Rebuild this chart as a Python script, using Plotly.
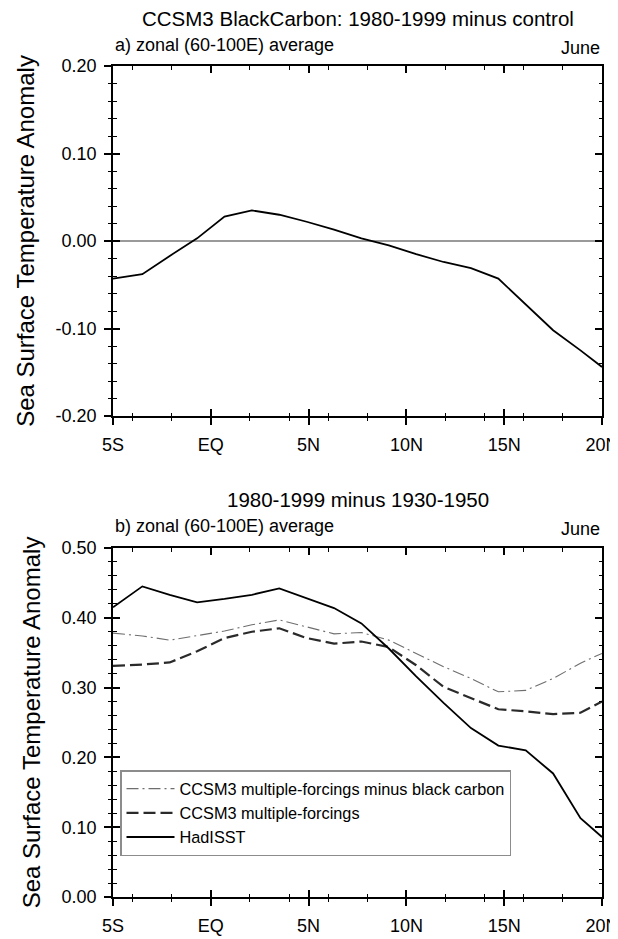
import plotly.graph_objects as go

# ---- data ----
lat = [-5.0, -3.5, -2.1, -0.7, 0.7, 2.1, 3.5, 4.9, 6.3, 7.7, 9.1, 10.5,
       11.9, 13.3, 14.7, 16.1, 17.5, 18.9, 20.0]

bc_minus_control = [-0.043, -0.038, -0.017, 0.003, 0.028, 0.035, 0.030, 0.022,
                    0.013, 0.003, -0.005, -0.015, -0.024, -0.031, -0.043,
                    -0.072, -0.102, -0.125, -0.144]

mf_minus_bc = [0.378, 0.374, 0.368, 0.374, 0.381, 0.390, 0.397, 0.387, 0.377,
               0.379, 0.368, 0.349, 0.330, 0.313, 0.294, 0.296, 0.313, 0.335,
               0.349]

mf = [0.331, 0.333, 0.336, 0.352, 0.371, 0.380, 0.385, 0.371, 0.363, 0.366,
      0.358, 0.332, 0.301, 0.285, 0.269, 0.266, 0.262, 0.264, 0.280]

hadisst = [0.415, 0.445, 0.433, 0.422, 0.427, 0.433, 0.442, 0.428, 0.414,
           0.392, 0.356, 0.316, 0.278, 0.242, 0.217, 0.210, 0.177, 0.113,
           0.086]

xtick_vals = [-5, 0, 5, 10, 15, 20]
xtick_text = ["5S", "EQ", "5N", "10N", "15N", "20N"]

ytick_vals_a = [-0.2, -0.1, 0.0, 0.1, 0.2]
ytick_text_a = ["-0.20", "-0.10", "0.00", "0.10", "0.20"]
ytick_vals_b = [0.0, 0.1, 0.2, 0.3, 0.4, 0.5]
ytick_text_b = ["0.00", "0.10", "0.20", "0.30", "0.40", "0.50"]

FONT = "Liberation Sans, Arial, Helvetica, sans-serif"
OFF = 8                      # page body margin
W, H = 618 - OFF, 939 - OFF  # figure size so it fits the window


def px_x(p):
    return (p - OFF) / W


def px_y(p):
    return 1 - (p - OFF) / H


fig = go.Figure()

fig.add_trace(go.Scatter(x=lat, y=bc_minus_control, mode="lines",
                         line=dict(color="black", width=1.8),
                         showlegend=False, xaxis="x", yaxis="y"))

fig.add_trace(go.Scatter(x=lat, y=mf_minus_bc, mode="lines",
                         name="CCSM3 multiple-forcings minus black carbon",
                         line=dict(color="#6e6e6e", width=1.1,
                                   dash="12px,4px,2px,4px"),
                         xaxis="x2", yaxis="y2"))
fig.add_trace(go.Scatter(x=lat, y=mf, mode="lines",
                         name="CCSM3 multiple-forcings",
                         line=dict(color="#2a2a2a", width=2.2, dash="12px,5px"),
                         xaxis="x2", yaxis="y2"))
fig.add_trace(go.Scatter(x=lat, y=hadisst, mode="lines",
                         name="HadISST",
                         line=dict(color="black", width=1.8),
                         xaxis="x2", yaxis="y2"))

# empty traces that carry the inward-tick overlay axes
for xa, ya in (("x3", "y3"), ("x4", "y4")):
    fig.add_trace(go.Scatter(x=[None], y=[None], mode="lines", showlegend=False,
                             hoverinfo="skip", xaxis=xa, yaxis=ya))

XDOM = [px_x(113), px_x(602)]
DOM_A = [px_y(416), px_y(66)]
DOM_B = [px_y(897), px_y(548)]


def xax(anchor, ticks, labels, overlay=None):
    d = dict(domain=XDOM, range=[-5, 20], anchor=anchor, automargin=False,
             tickmode="array", tickvals=xtick_vals, ticktext=xtick_text,
             ticks=ticks, ticklen=7, tickwidth=1.5, tickcolor="black",
             mirror="ticks" if overlay else True,
             showline=not overlay, linecolor="black", linewidth=1.6,
             showgrid=False, zeroline=False, showticklabels=labels,
             ticklabeloverflow="allow", ticklabelstandoff=5,
             tickfont=dict(family=FONT, size=18, color="black"),
             minor=dict(dtick=2, tick0=0, ticks=ticks, ticklen=3.5,
                        tickwidth=1, tickcolor="black", showgrid=False))
    if overlay:
        d["overlaying"] = overlay
    return d


def yax(anchor, rng, domain, tv, tt, ticks, labels, overlay=None, zero=False):
    d = dict(domain=domain, range=rng, anchor=anchor, automargin=False,
             tickmode="array", tickvals=tv, ticktext=tt,
             ticks=ticks, ticklen=7, tickwidth=1.5,
             tickcolor="black", mirror="ticks" if overlay else True,
             showline=not overlay, linecolor="black", linewidth=1.6,
             showgrid=False, zeroline=zero, zerolinecolor="#9a9a9a",
             zerolinewidth=2, showticklabels=labels,
             ticklabeloverflow="allow", ticklabelstandoff=4,
             tickfont=dict(family=FONT, size=18, color="black"),
             title=dict(text="Sea Surface Temperature Anomaly" if labels else "",
                        font=dict(family=FONT, size=24, color="black"),
                        standoff=14),
             minor=dict(dtick=0.02, tick0=0, ticks=ticks, ticklen=3.5,
                        tickwidth=1, tickcolor="black", showgrid=False))
    if overlay:
        d["overlaying"] = overlay
    return d


fig.update_layout(
    width=W, height=H,
    margin=dict(l=0, r=0, t=0, b=0, autoexpand=False),
    paper_bgcolor="white", plot_bgcolor="white",
    font=dict(family=FONT, color="black"),
    xaxis=xax("y", "outside", True),
    yaxis=yax("x", [-0.2, 0.2], DOM_A, ytick_vals_a, ytick_text_a,
              "outside", True, zero=True),
    xaxis2=xax("y2", "outside", True),
    yaxis2=yax("x2", [0.0, 0.5], DOM_B, ytick_vals_b, ytick_text_b,
               "outside", True),
    xaxis3=xax("y3", "inside", False, overlay="x"),
    yaxis3=yax("x3", [-0.2, 0.2], DOM_A, ytick_vals_a, ytick_text_a,
               "inside", False, overlay="y"),
    xaxis4=xax("y4", "inside", False, overlay="x2"),
    yaxis4=yax("x4", [0.0, 0.5], DOM_B, ytick_vals_b, ytick_text_b,
               "inside", False, overlay="y2"),
    legend=dict(x=px_x(120), y=px_y(770), xanchor="left", yanchor="top",
                bgcolor="white", bordercolor="#8c8c8c", borderwidth=1.5,
                font=dict(family=FONT, size=16.3, color="black"),
                tracegroupgap=0, itemwidth=48),
    showlegend=True,
)

xc = (XDOM[0] + XDOM[1]) / 2
ann = [
    dict(text="CCSM3 BlackCarbon: 1980-1999 minus control", x=xc, y=px_y(18),
         font=dict(size=20.5)),
    dict(text="a) zonal (60-100E) average", x=XDOM[0], y=px_y(45),
         xanchor="left", font=dict(size=18)),
    dict(text="June", x=XDOM[1], y=px_y(48), xanchor="right", font=dict(size=18)),
    dict(text="1980-1999 minus 1930-1950", x=xc, y=px_y(499), font=dict(size=20.5)),
    dict(text="b) zonal (60-100E) average", x=XDOM[0], y=px_y(526),
         xanchor="left", font=dict(size=18)),
    dict(text="June", x=XDOM[1], y=px_y(529), xanchor="right", font=dict(size=18)),
]
for a in ann:
    a.update(xref="paper", yref="paper", showarrow=False, yanchor="middle")
    a.setdefault("xanchor", "center")
    a["font"] = dict(family=FONT, color="black", **a["font"])
fig.update_layout(annotations=ann)

fig.write_html("out.html")
